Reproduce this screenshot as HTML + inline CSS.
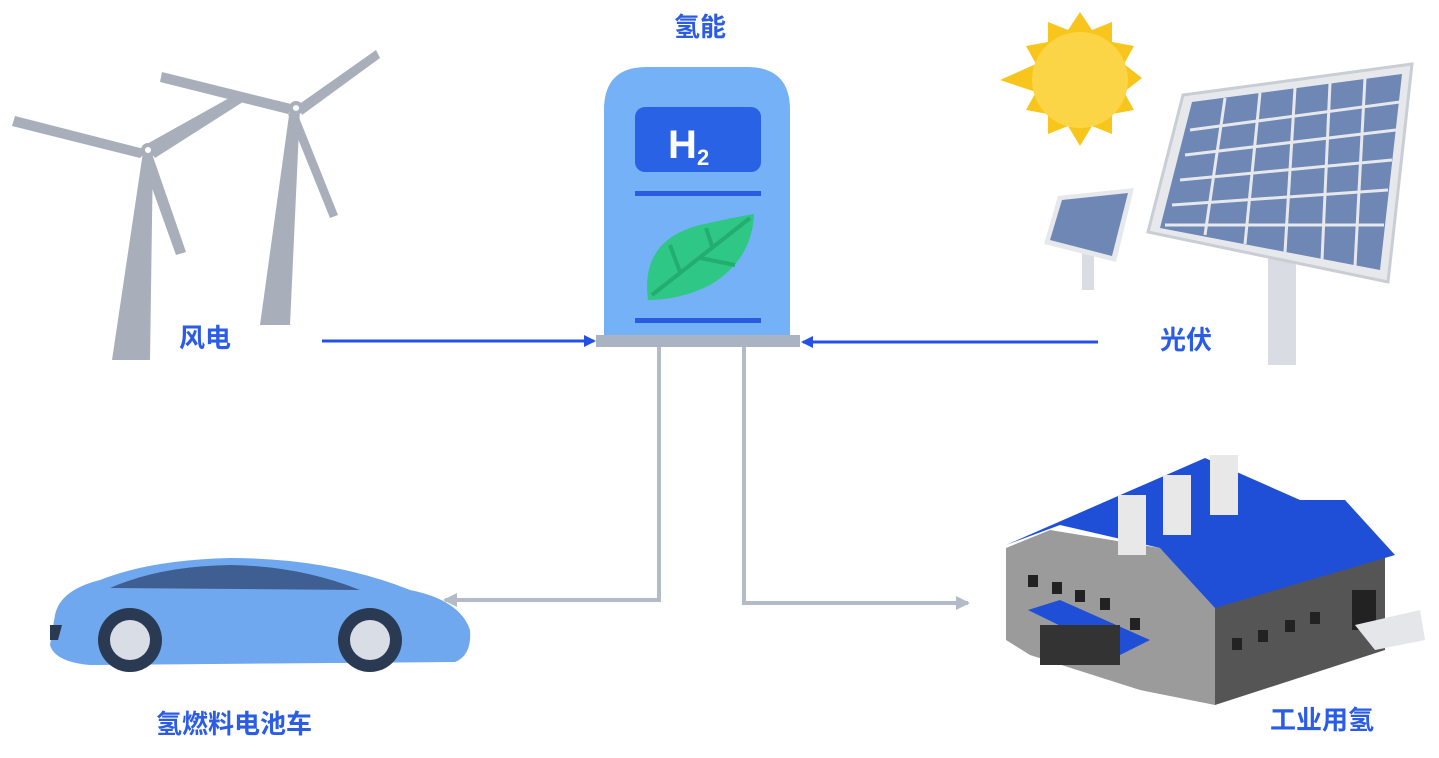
<!DOCTYPE html>
<html><head><meta charset="utf-8"><style>
html,body{margin:0;padding:0;background:#fff;width:1439px;height:758px;overflow:hidden}
text{font-family:"Liberation Sans","Noto Sans CJK SC",sans-serif;font-weight:bold}
</style></head><body>
<svg width="1439" height="758" viewBox="0 0 1439 758" xmlns="http://www.w3.org/2000/svg">
<defs>
<marker id="ab" markerWidth="12" markerHeight="12" refX="10" refY="6" orient="auto" markerUnits="userSpaceOnUse"><path d="M0,0 L12,6 L0,12 z" fill="#2550e8"/></marker>
<marker id="ag" markerWidth="14" markerHeight="14" refX="12" refY="7" orient="auto" markerUnits="userSpaceOnUse"><path d="M0,0 L14,7 L0,14 z" fill="#b3bbc9"/></marker>
</defs>
<!-- wind turbines -->
<g fill="#a9afba">
<polygon points="112,360 150,360 153,152 143,152"/>
<polygon points="148,150 15,116 12,126 140,158"/>
<polygon points="150,148 186,252 176,255 142,160"/>
<polygon points="145,145 240,92 246,100 155,158"/>
<circle cx="148" cy="150" r="7"/>
<polygon points="260,325 290,325 300,108 290,108"/>
<polygon points="295,105 162,72 160,82 288,114"/>
<polygon points="298,105 376,50 380,58 302,115"/>
<polygon points="296,110 338,215 330,218 288,114"/>
<circle cx="296" cy="108" r="7"/>
</g>
<circle cx="148" cy="150" r="3" fill="#fff"/><circle cx="296" cy="108" r="3" fill="#fff"/>
<!-- sun -->
<polygon points="1080,12 1092,30 1112,22 1112,42 1134,46 1124,64 1142,78 1124,92 1134,110 1112,114 1112,134 1092,126 1080,146 1068,126 1048,134 1048,114 1026,110 1036,92 1000,80 1036,64 1026,46 1048,42 1048,22 1068,30" fill="#f7c51c"/>
<circle cx="1080" cy="80" r="48" fill="#fbd546"/>
<!-- solar -->
<rect x="1268" y="240" width="28" height="125" fill="#d9dce2"/>
<rect x="1082" y="240" width="12" height="50" fill="#d9dce2"/>
<polygon points="1183,95 1412,64 1388,282 1148,232" fill="#e6e8ec" stroke="#c9cdd4" stroke-width="3"/>
<polygon points="1192,102 1402,74 1380,270 1160,228" fill="#6f87b5"/>
<g stroke="#e6e8ec" stroke-width="3">
<line x1="1190" y1="130" x2="1400" y2="102"/><line x1="1185" y1="155" x2="1396" y2="130"/><line x1="1180" y1="180" x2="1392" y2="160"/><line x1="1172" y1="205" x2="1388" y2="190"/><line x1="1165" y1="225" x2="1384" y2="225"/>
<line x1="1225" y1="98" x2="1205" y2="235"/><line x1="1260" y1="93" x2="1245" y2="244"/><line x1="1295" y1="88" x2="1285" y2="252"/><line x1="1330" y1="83" x2="1322" y2="260"/><line x1="1365" y1="78" x2="1355" y2="266"/>
</g>
<polygon points="1058,196 1134,188 1116,262 1044,244" fill="#e6e8ec"/>
<polygon points="1062,200 1128,193 1112,256 1050,240" fill="#6f87b5"/>
<!-- station -->
<path d="M604,335 V110 Q604,67 647,67 H747 Q790,67 790,110 V335 Z" fill="#74b1f7"/>
<rect x="635" y="107" width="126" height="65" rx="10" fill="#2a62e6"/>
<text x="668" y="158" fill="#fff" font-size="40">H</text>
<text x="697" y="165" fill="#fff" font-size="22">2</text>
<rect x="635" y="191" width="126" height="5" fill="#2a5be0"/>
<rect x="635" y="318" width="126" height="5" fill="#2a5be0"/>
<path d="M648,300 Q640,240 700,225 Q740,216 754,214 Q752,260 710,285 Q680,300 648,300 Z" fill="#2fc785"/>
<path d="M652,295 L750,218 M680,272 L670,245 M712,246 L706,228 M700,258 L735,265" stroke="#23ad6f" stroke-width="4" fill="none"/>
<rect x="596" y="335" width="204" height="12" fill="#a9b3c2"/>
<text x="700" y="36" fill="#2b5ce6" font-size="26" text-anchor="middle">氢能</text>
<!-- connectors -->
<line x1="322" y1="341" x2="594" y2="341" stroke="#2550e8" stroke-width="3" marker-end="url(#ab)"/>
<line x1="1098" y1="342" x2="803" y2="342" stroke="#2550e8" stroke-width="3" marker-end="url(#ab)"/>
<polyline points="659,347 659,600 445,600" fill="none" stroke="#b3bbc9" stroke-width="4" marker-end="url(#ag)"/>
<polyline points="744,347 744,603 968,603" fill="none" stroke="#b3bbc9" stroke-width="4" marker-end="url(#ag)"/>
<!-- car -->
<path d="M55,615 Q60,590 100,580 Q150,560 230,558 Q330,558 410,590 Q460,600 470,630 Q472,655 455,662 L90,665 Q55,662 50,645 Z" fill="#6fa8ef"/>
<path d="M110,588 Q160,566 230,565 Q300,566 360,590 Z" fill="#3f5f93"/>
<path d="M50,625 L62,625 L58,640 L50,640 Z" fill="#2a3a52"/>
<circle cx="130" cy="640" r="32" fill="#2a3a52"/><circle cx="130" cy="640" r="20" fill="#d8dde6"/>
<circle cx="370" cy="640" r="32" fill="#2a3a52"/><circle cx="370" cy="640" r="20" fill="#d8dde6"/>
<!-- factory -->
<polygon points="1006,548 1050,530 1160,548 1215,605 1215,705 1140,690 1030,655 1006,640" fill="#9b9b9b"/>
<polygon points="1215,605 1385,548 1385,650 1215,705" fill="#555"/>
<polygon points="1006,545 1205,458 1300,500 1345,500 1395,555 1215,608 1160,548 1060,525" fill="#1f4fd6"/>
<g fill="#222">
<rect x="1028" y="575" width="10" height="12"/><rect x="1052" y="582" width="10" height="12"/><rect x="1075" y="590" width="10" height="12"/><rect x="1100" y="598" width="10" height="12"/><rect x="1130" y="618" width="10" height="12"/>
<rect x="1232" y="638" width="10" height="12"/><rect x="1258" y="630" width="10" height="12"/><rect x="1285" y="620" width="10" height="12"/><rect x="1310" y="612" width="10" height="12"/>
<rect x="1352" y="590" width="24" height="40"/>
</g>
<rect x="1118" y="495" width="28" height="60" fill="#e8e8e8"/>
<rect x="1163" y="475" width="28" height="60" fill="#e8e8e8"/>
<rect x="1210" y="455" width="28" height="60" fill="#e8e8e8"/>
<polygon points="1028,610 1060,600 1150,640 1120,655" fill="#1f4fd6"/>
<rect x="1040" y="625" width="80" height="40" fill="#333"/>
<polygon points="1355,625 1420,610 1425,640 1375,650" fill="#e4e6ea"/>
<!-- labels -->
<text x="205" y="347" fill="#2b5ce6" font-size="26" text-anchor="middle">风电</text>
<text x="1186" y="349" fill="#2b5ce6" font-size="26" text-anchor="middle">光伏</text>
<text x="234" y="733" fill="#2b5ce6" font-size="26" text-anchor="middle">氢燃料电池车</text>
<text x="1322" y="729" fill="#2b5ce6" font-size="26" text-anchor="middle">工业用氢</text>
</svg>
</body></html>
